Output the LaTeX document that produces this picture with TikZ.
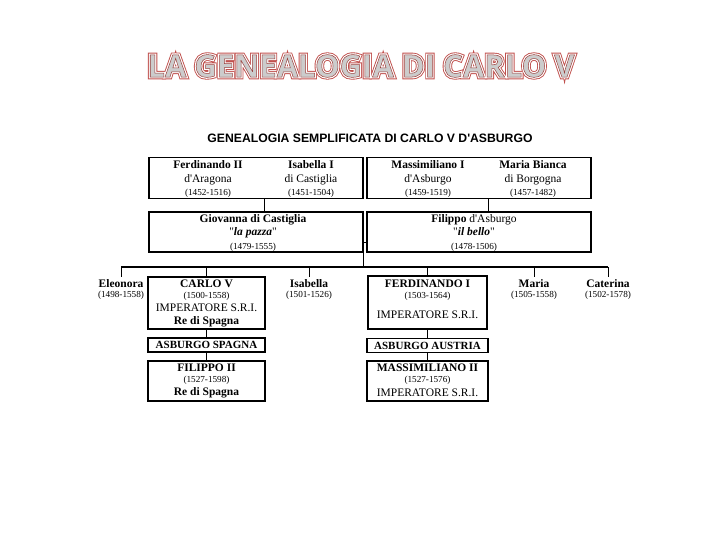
\documentclass[tikz,border=0pt]{standalone}
\usepackage{fontspec}
\setmainfont{Liberation Serif}
\newfontfamily\titlefont{Open Sans}
\newfontfamily\headfont{Liberation Sans}
\definecolor{titred}{HTML}{C0504D}
\newcommand{\anni}[1]{{\fontsize{9.2}{10}\selectfont #1}}
\newcommand{\titletext}{LA GENEALOGIA DI CARLO V}
\newcommand{\qq}{\textquotedbl}
\newcommand{\ap}{\textquotesingle}
% contorno del testo (modo di resa PDF)
\newcommand{\contorno}[3]{\special{pdf:literal direct #1 Tr #2 w}#3\special{pdf:literal direct 0 Tr}}

\tikzset{
	box/.style={draw, line width=1.1pt, inner sep=0pt},
	txt/.style={align=center, inner sep=0pt, font=\fontsize{11.5}{13.5}\selectfont},
	riga/.style={inner sep=0pt, text height=1.5ex, text depth=.3ex, font=\fontsize{11.5}{13.5}\selectfont},
	ramo/.style={box, minimum height=14, font=\fontsize{11}{12}\selectfont\bfseries},
	titolo/.style={font=\titlefont\bfseries\fontsize{31}{36}\selectfont},
	link/.style={line width=0.9pt},
}

\begin{document}
\begin{tikzpicture}[x=1pt,y=-1pt]
	\useasboundingbox (0,0) rectangle (720,540);

	% titolo
	\node[titolo, text=titred](T1) at (361,66){\contorno{1}{4.6}{\titletext}};
	\node[titolo, text=white](T2) at (361,66){\contorno{1}{2.8}{\titletext}};
	\node[titolo, text=gray!40](T3) at (361,66){\special{pdf:literal direct 0.6 0.25 0.24 RG}\contorno{2}{0.5}{\titletext}};
	\node(head) at (370,138){\headfont\bfseries\fontsize{12.2}{13}\selectfont GENEALOGIA SEMPLIFICATA DI CARLO V D\ap ASBURGO};

	% nonni
	\node[box, minimum width=214, minimum height=41](parAR) at (256,178){};
	\node[box, minimum width=224, minimum height=41](parAB) at (479,178){};
	\node[txt](ferdII) at (208,179){\textbf{Ferdinando II}\\ d\ap Aragona\\ \anni{(1452-1516)}};
	\node[txt](isab) at (311,179){\textbf{Isabella I}\\ di Castiglia\\ \anni{(1451-1504)}};
	\node[txt](massI) at (428,179){\textbf{Massimiliano I}\\ d\ap Asburgo\\ \anni{(1459-1519)}};
	\node[txt](mbianca) at (533,179){\textbf{Maria Bianca}\\ di Borgogna\\ \anni{(1457-1482)}};

	% genitori
	\node[box, minimum width=214, minimum height=40](giov) at (256,232){};
	\node[box, minimum width=224, minimum height=40](filb) at (479,232){};
	\node[txt](giovT) at (253,232.5){\textbf{Giovanna di Castiglia}\\ \qq\textit{\textbf{la pazza}}\qq\\ \anni{(1479-1555)}};
	\node[txt](filbT) at (474,232.5){\textbf{Filippo} d\ap Asburgo\\ \qq\textit{\textbf{il bello}}\qq\\ \anni{(1478-1506)}};

	\draw[link] ([xshift=8]parAR.south)->([xshift=8]giov.north);
	\draw[link] ([xshift=9]parAB.south)->([xshift=9]filb.north);

	\coordinate(nozze) at (363,242);
	\coordinate(fsx) at (121,267);
	\coordinate(fdx) at (608,267);
	\draw[link] (giov.east |- nozze)->(filb.west |- nozze);
	\draw[link] (nozze)->(nozze |- fsx);
	\draw[line width=1.5pt] (fsx)->(fdx);

	% figli
	\node[riga](eleo) at (121,284.5){\textbf{Eleonora}};
	\node[riga](eleoA) at (121,295){\anni{(1498-1558)}};
	\node[riga](isa) at (309,284.5){\textbf{Isabella}};
	\node[riga](isaA) at (309,295){\anni{(1501-1526)}};
	\node[riga](maria) at (534,284.5){\textbf{Maria}};
	\node[riga](mariaA) at (534,295){\anni{(1505-1558)}};
	\node[riga](cate) at (608,284.5){\textbf{Caterina}};
	\node[riga](cateA) at (608,295){\anni{(1502-1578)}};

	\node[box, minimum width=117, minimum height=52](carlo) at (206.5,303){};
	\node[riga](carlo1) at (206.5,285){\textbf{CARLO V}};
	\node[riga](carlo2) at (206.5,295.5){\anni{(1500-1558)}};
	\node[riga](carlo3) at (206.5,308.5){IMPERATORE S.R.I.};
	\node[riga](carlo4) at (206.5,321.5){\textbf{Re di Spagna}};
	\node[box, minimum width=119, minimum height=53](ferd) at (427.5,302.5){};
	\node[riga](ferd1) at (427.5,285){\textbf{FERDINANDO I}};
	\node[riga](ferd2) at (427.5,295.5){\anni{(1503-1564)}};
	\node[riga](ferd3) at (427.5,315.5){IMPERATORE S.R.I.};

	\draw[link] (eleo.north |- fsx)->([yshift=3]eleo.north);
	\draw[link] (isa.north |- fsx)->([yshift=3]isa.north);
	\draw[link] (maria.north |- fsx)->([yshift=3]maria.north);
	\draw[link] (cate.north |- fsx)->([yshift=3]cate.north);
	\draw[link] (carlo.north |- fsx)->(carlo.north);
	\draw[link] (ferd.north |- fsx)->(ferd.north);

	% rami
	\node[ramo, minimum width=117](aspagna) at (206.5,345){ASBURGO SPAGNA};
	\node[ramo, minimum width=121](aaustria) at (427.5,345.5){ASBURGO AUSTRIA};
	\node[box, minimum width=117, minimum height=40](filII) at (206.5,381){};
	\node[box, minimum width=121, minimum height=40](massII) at (427.5,381){};
	\node[riga](filII1) at (206.5,369){\textbf{FILIPPO II}};
	\node[riga](filII2) at (206.5,380){\anni{(1527-1598)}};
	\node[riga](filII3) at (206.5,393){\textbf{Re di Spagna}};
	\node[riga](massII1) at (427.5,369){\textbf{MASSIMILIANO II}};
	\node[riga](massII2) at (427.5,380){\anni{(1527-1576)}};
	\node[riga](massII3) at (427.5,393.5){IMPERATORE S.R.I.};

	\draw[link] (carlo.south)->(aspagna.north);
	\draw[link] (aspagna.south)->(filII.north);
	\draw[link] (ferd.south)->(aaustria.north);
	\draw[link] (aaustria.south)->(massII.north);
\end{tikzpicture}
\end{document}
